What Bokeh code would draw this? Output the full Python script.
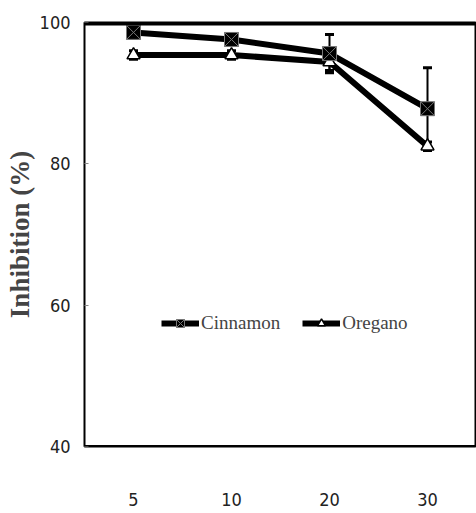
from bokeh.plotting import figure
from bokeh.models import ColumnDataSource, Whisker, TeeHead, Span, Legend, LegendItem, FixedTicker
from bokeh.embed import file_html
from bokeh.resources import INLINE

days = ["5", "10", "20", "30"]
cinnamon = [98.6, 97.6, 95.6, 87.8]
cinnamon_err = [0.8, 0.8, 2.7, 5.8]
oregano = [95.4, 95.4, 94.4, 82.5]
oregano_err = [0.6, 0.6, 1.2, 0.6]
y_ticks = [40, 60, 80, 100]

p = figure(width=476, height=513, x_range=days, y_range=(40, 100),
           output_backend="svg", toolbar_location=None,
           min_border_left=84, min_border_right=0, min_border_top=22, min_border_bottom=67)
p.background_fill_color = "white"
p.border_fill_color = "white"
p.xgrid.visible = False
p.ygrid.visible = False
p.outline_line_color = "black"
p.outline_line_width = 2

src_c = ColumnDataSource(dict(x=days, y=cinnamon,
                              upper=[v + e for v, e in zip(cinnamon, cinnamon_err)],
                              lower=[v - e for v, e in zip(cinnamon, cinnamon_err)]))
src_o = ColumnDataSource(dict(x=days, y=oregano,
                              upper=[v + e for v, e in zip(oregano, oregano_err)],
                              lower=[v - e for v, e in zip(oregano, oregano_err)]))

for src in (src_c, src_o):
    w = Whisker(base="x", upper="upper", lower="lower", source=src,
                line_color="black", line_width=2,
                upper_head=TeeHead(size=9, line_width=3, line_color="black"),
                lower_head=TeeHead(size=9, line_width=3, line_color="black"))
    p.add_layout(w)

lo = p.line("x", "y", source=src_o, line_color="black", line_width=6)
mo = p.scatter("x", "y", source=src_o, marker="triangle", size=13,
               fill_color="white", line_color="black", line_width=1.5)
lc = p.line("x", "y", source=src_c, line_color="black", line_width=6)
mc = p.scatter("x", "y", source=src_c, marker="square_x", size=14,
               fill_color="black", line_color="#777777", line_width=1)

p.add_layout(Span(location=100, dimension="width", line_color="black", line_width=6))
p.add_layout(Span(location=40, dimension="width", line_color="black", line_width=3))

legend = Legend(items=[LegendItem(label="Cinnamon", renderers=[lc, mc]),
                       LegendItem(label="Oregano", renderers=[lo, mo])],
                orientation="horizontal", location=(77, 112),
                border_line_color=None, background_fill_alpha=0,
                label_text_font="Liberation Serif", label_text_font_size="19px",
                glyph_width=38, glyph_height=20, spacing=22, label_standoff=2,
                padding=0, margin=0)
p.add_layout(legend, "center")

p.yaxis.ticker = FixedTicker(ticks=y_ticks)
p.yaxis.axis_line_color = None
p.yaxis.major_tick_in = 4
p.yaxis.major_tick_out = 0
p.yaxis.major_tick_line_color = "#888888"
p.yaxis.minor_tick_line_color = None
p.yaxis.major_label_text_font = "DejaVu Sans Condensed"
p.yaxis.major_label_text_font_size = "18px"
p.yaxis.major_label_text_color = "#222222"
p.yaxis.major_label_standoff = 14
p.yaxis.axis_label = "Inhibition (%)"
p.yaxis.axis_label_text_font = "Liberation Serif"
p.yaxis.axis_label_text_font_style = "bold"
p.yaxis.axis_label_text_font_size = "27px"
p.yaxis.axis_label_standoff = 2

p.xaxis.axis_line_color = None
p.xaxis.major_tick_line_color = None
p.xaxis.minor_tick_line_color = None
p.xaxis.major_label_text_font = "DejaVu Sans Condensed"
p.xaxis.major_label_text_font_size = "18px"
p.xaxis.major_label_text_color = "#222222"
p.xaxis.major_label_standoff = 40

open("out.html", "w").write(file_html(p, INLINE))
